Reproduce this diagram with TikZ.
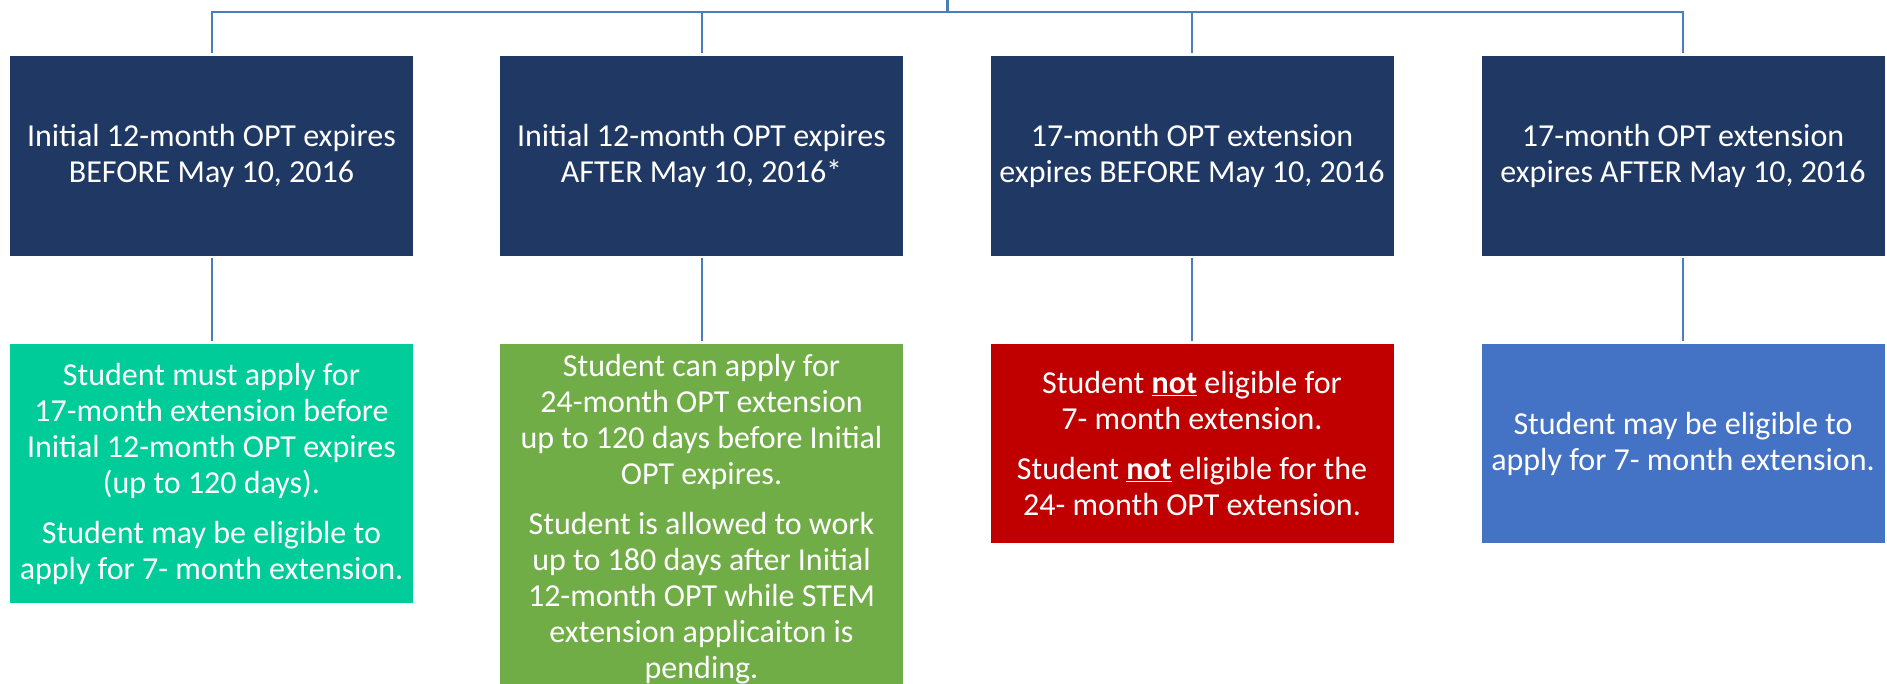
\documentclass[tikz,border=0pt]{standalone}
\usepackage{fontspec}
\setmainfont{Carlito}
\definecolor{navy}{RGB}{32,56,100}
\definecolor{mint}{RGB}{0,204,153}
\definecolor{leaf}{RGB}{112,173,71}
\definecolor{crimson}{RGB}{192,0,0}
\definecolor{royal}{RGB}{68,114,196}
\definecolor{linkc}{RGB}{74,126,187}
\begin{document}
\begin{tikzpicture}[x=1pt,y=-1pt,
  box/.style={rectangle,inner sep=0pt,minimum width=403pt,text=white,align=center,
    font=\fontsize{32}{36}\selectfont},
  topbox/.style={box,fill=navy,minimum height=200pt},
  conn/.style={draw=linkc,line width=2pt}]
\clip (0,0) rectangle (1887,683);
\fill[white] (0,0) rectangle (1887,683);
% top boxes
\node[topbox] (t1) at (211.5,156) {Initial 12-month OPT expires\\BEFORE May 10, 2016};
\node[topbox] (t2) at (701.5,156) {Initial 12-month OPT expires\\AFTER May 10, 2016*};
\node[topbox] (t3) at (1192,156) {17-month OPT extension\\expires BEFORE May 10, 2016};
\node[topbox] (t4) at (1683,156) {17-month OPT extension\\expires AFTER May 10, 2016};
% bottom boxes
\node[box,fill=mint,minimum height=259pt] (b1) at (211.5,473.5)
  {Student must apply for\\17-month extension before\\Initial 12-month OPT expires\\(up to 120 days).\\[14pt]Student may be eligible to\\apply for 7- month extension.};
\node[box,fill=leaf,minimum height=350pt] (b2) at (701.5,519)
  {Student can apply for\\24-month OPT extension\\up to 120 days before Initial\\OPT expires.\\[14pt]Student is allowed to work\\up to 180 days after Initial\\12-month OPT while STEM\\extension applicaiton is\\pending.};
\node[box,fill=crimson,minimum height=199pt] (b3) at (1192,443.5)
  {Student \textbf{\underline{not}} eligible for\\7- month extension.\\[14pt]Student \textbf{\underline{not}} eligible for the\\24- month OPT extension.};
\node[box,fill=royal,minimum height=199pt] (b4) at (1683,443.5)
  {Student may be eligible to\\apply for 7- month extension.};
% connectors
\coordinate (top) at (947,0);
\coordinate (hub) at (947,12);
\draw[conn,line width=3pt] (top) -- (hub);
\foreach \i in {1,2,3,4}{
  \draw[conn] (hub) -| ([yshift=3pt]t\i.north);
  \draw[conn] ([yshift=-2pt]t\i.south) -- ([yshift=3pt]b\i.north);
}
\end{tikzpicture}
\end{document}
